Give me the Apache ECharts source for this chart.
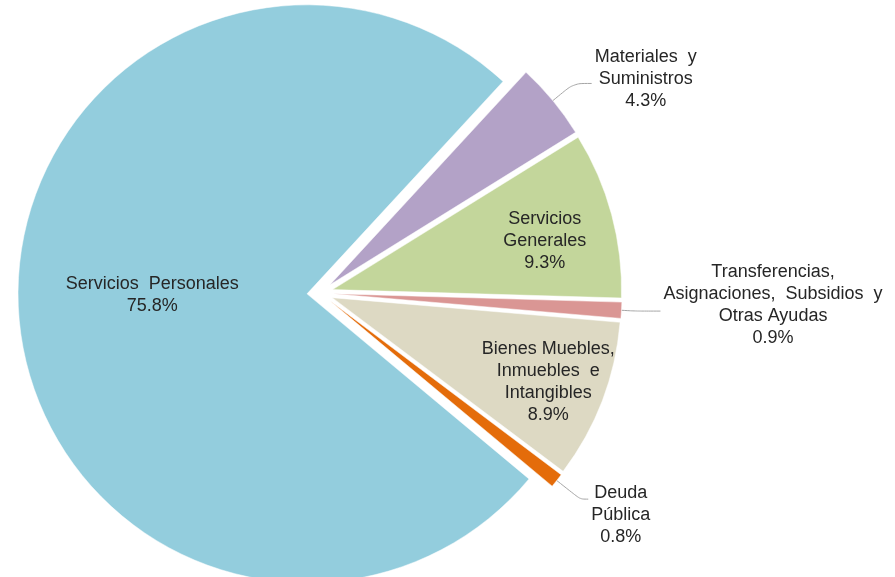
<!DOCTYPE html>
<html>
<head>
<meta charset="utf-8">
<script src="https://cdn.jsdelivr.net/npm/echarts@6/dist/echarts.min.js"></script>
<style>
html,body{margin:0;padding:0;background:#fff;}
#c{width:895px;height:577px;}
</style>
</head>
<body>
<div id="c"></div>
<script>
// ---- data ----
const categories = [
  'Materiales y Suministros',
  'Servicios Generales',
  'Transferencias, Asignaciones, Subsidios y Otras Ayudas',
  'Bienes Muebles, Inmuebles e Intangibles',
  'Deuda Pública',
  'Servicios Personales'
];
const labelNames = [
  'Materiales  y\nSuministros',
  'Servicios\nGenerales',
  'Transferencias,\nAsignaciones,  Subsidios  y\nOtras Ayudas',
  'Bienes Muebles,\nInmuebles  e\nIntangibles',
  'Deuda\nPública',
  'Servicios  Personales'
];
const values = [4.3, 9.3, 0.9, 8.9, 0.8, 75.8];

// ---- style ----
const colors = ['#B3A2C7', '#C3D69B', '#DA9694', '#DDD9C3', '#E46C0A', '#93CDDD'];
const placement = ['outside', 'inside', 'outside', 'inside', 'outside', 'inside'];
const CX = 320, CY = 293, R = 289, OFFSET = 13;
const insideFrac = {1: 0.75, 3: 0.79, 5: 0.54};
const insideNudge = {1: [0, 9], 3: [0, 2], 5: [4, -9]};
const outsideCfg = {
  0: {length: 27, length2: 18, padding: [0, 0, 8, 0]},
  2: {length: 14, length2: 25, padding: [0, 0, 12, 0]},
  4: {length: 30, length2: 8, padding: [32, 0, 0, 0]}
};
const FONT = '"Liberation Sans", Arial, sans-serif';
const TXT = '#262626';

const chart = echarts.init(document.getElementById('c'), null, {renderer: 'canvas'});

const data = values.map(function (v, i) {
  const out = outsideCfg[i];
  const item = {
    name: categories[i],
    value: v,
    selected: true,
    itemStyle: {color: colors[i]},
    label: {position: placement[i]},
    labelLine: {show: !!out}
  };
  if (out) {
    item.label.padding = out.padding;
    item.labelLine.length = out.length;
    item.labelLine.length2 = out.length2;
  }
  return item;
});

chart.setOption({
  backgroundColor: '#fff',
  animation: false,
  series: [{
    type: 'pie',
    center: [CX, CY],
    radius: R,
    startAngle: 47.3,
    clockwise: true,
    selectedMode: 'multiple',
    selectedOffset: OFFSET,
    avoidLabelOverlap: false,
    itemStyle: {borderColor: '#fff', borderWidth: 0.5},
    label: {
      show: true,
      distanceToLabelLine: 3,
      formatter: function (p) {
        return labelNames[p.dataIndex].split('\n')
          .concat([p.value.toFixed(1) + '%'])
          .map(function (s) { return '{c|' + s + '}'; })
          .join('\n');
      },
      rich: {
        c: {align: 'center', fontSize: 18, lineHeight: 22, color: TXT, fontFamily: FONT}
      }
    },
    labelLine: {
      smooth: 0.3,
      lineStyle: {color: '#A6A6A6', width: 1}
    },
    labelLayout: function (p) {
      const f = insideFrac[p.dataIndex];
      if (f == null) return {};
      const r = p.labelRect;
      const lx = r.x + r.width / 2 - CX;
      const ly = r.y + r.height / 2 - CY;
      const d = Math.hypot(lx, ly) || 1;
      const shift = (f - 0.5) * R;
      const n = insideNudge[p.dataIndex] || [0, 0];
      return {dx: lx / d * shift + n[0], dy: ly / d * shift + n[1]};
    },
    emphasis: {disabled: true},
    select: {itemStyle: {borderColor: '#fff', borderWidth: 0.5}},
    data: data
  }]
});
</script>
</body>
</html>
